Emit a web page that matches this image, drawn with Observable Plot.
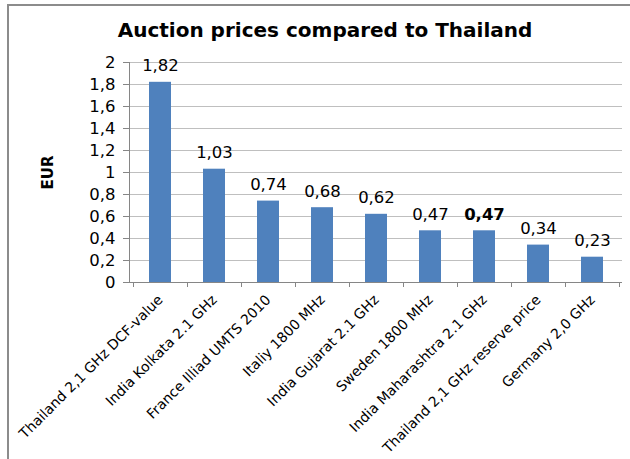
<!DOCTYPE html>
<html>
<head>
<meta charset="utf-8">
<script src="https://cdn.jsdelivr.net/npm/d3@7"></script>
<script src="https://cdn.jsdelivr.net/npm/@observablehq/plot@0.6"></script>
<style>
  body { margin: 0; background: #fff; }
  #wrap { position: relative; width: 630px; height: 459px; overflow: hidden; font-family: "DejaVu Sans", Verdana, sans-serif; }
  #border { position: absolute; left: 7px; top: 4px; width: 640px; height: 470px; border-left: 2px solid #8c8c8c; border-top: 2px solid #8c8c8c; box-sizing: border-box; }
  #title { position: absolute; left: 0; top: 18px; width: 650px; text-align: center; font-weight: bold; font-size: 20px; color: #000; }
  #chart { position: absolute; left: 0; top: 0; }
</style>
</head>
<body>
<div id="wrap">
  <div id="border"></div>
  <div id="title">Auction prices compared to Thailand</div>
  <div id="chart"></div>
</div>
<script>
const categories = [
  "Thailand 2,1 GHz DCF-value",
  "India Kolkata 2.1 GHz",
  "France Illiad UMTS 2010",
  "Italiy 1800 MHz",
  "India Gujarat 2.1 GHz",
  "Sweden 1800 MHz",
  "India Maharashtra 2.1 GHz",
  "Thailand 2,1 GHz reserve price",
  "Germany 2,0 GHz"
];
const values = [1.82, 1.03, 0.74, 0.68, 0.62, 0.47, 0.47, 0.34, 0.23];
const boldLabel = [false, false, false, false, false, false, true, false, false];
const yTicks = [0, 0.2, 0.4, 0.6, 0.8, 1, 1.2, 1.4, 1.6, 1.8, 2];
const yTickLabels = ["0", "0,2", "0,4", "0,6", "0,8", "1", "1,2", "1,4", "1,6", "1,8", "2"];
const yLabel = "EUR";

const data = categories.map((c, i) => ({cat: c, value: values[i], bold: boldLabel[i]}));
const fmt = v => v.toFixed(2).replace(".", ",");

const axisGray = "#868686";

// Excel-style category boundary ticks + axis lines
const boundaryTicks = (index, scales, values, dims) => {
  const x = scales.x;
  const step = x(categories[1]) - x(categories[0]);
  const bw = typeof x.bandwidth === "function" ? x.bandwidth() : x.bandwidth;
  const x0 = x(categories[0]) - (step - bw) / 2;
  const yb = dims.height - dims.marginBottom;
  const g = d3.create("svg:g").attr("stroke", axisGray).attr("stroke-width", 1);
  for (let i = 0; i <= categories.length; i++) {
    const bx = Math.round(x0 + i * step) + 0.5;
    g.append("line").attr("x1", bx).attr("x2", bx).attr("y1", yb).attr("y2", yb + 5);
  }
  g.append("line").attr("x1", dims.marginLeft + 0.5).attr("x2", dims.marginLeft + 0.5)
    .attr("y1", dims.marginTop).attr("y2", yb);
  g.append("line").attr("x1", dims.marginLeft).attr("x2", dims.width - dims.marginRight)
    .attr("y1", yb + 0.5).attr("y2", yb + 0.5);
  return g.node();
};

const plot = Plot.plot({
  width: 630,
  height: 459,
  marginTop: 62,
  marginBottom: 177,
  marginLeft: 129,
  marginRight: 8,
  style: { fontFamily: "DejaVu Sans, Verdana, sans-serif", color: "#000", background: "transparent" },
  x: { domain: categories, paddingInner: 0.6, paddingOuter: 0.3, label: null },
  y: { domain: [0, 2], label: null },
  marks: [
    Plot.gridY(yTicks, { stroke: "#bfbfbf", strokeOpacity: 1 }),
    Plot.barY(data, { x: "cat", y: "value", fill: "#4f81bd" }),
    boundaryTicks,
    Plot.axisY({ ticks: yTicks, tickFormat: d => yTickLabels[yTicks.indexOf(d)], tickSize: 6, tickPadding: 8, fontSize: 16.5, stroke: axisGray,
      label: yLabel, labelAnchor: "center", labelArrow: "none", labelOffset: 87 }),
    Plot.axisX({ tickSize: 0, tickPadding: 15, tickRotate: -45, fontSize: 14, label: null }),
    Plot.text(data.filter(d => !d.bold), { x: "cat", y: "value", text: d => fmt(d.value), fontSize: 16.5, lineAnchor: "bottom", dy: -11, fill: "#000" }),
    Plot.text(data.filter(d => d.bold), { x: "cat", y: "value", text: d => fmt(d.value), fontSize: 16.5, fontWeight: "bold", lineAnchor: "bottom", dy: -11, fill: "#000" })
  ]
});
// style the axis label (EUR) bold
plot.querySelectorAll("g[aria-label='y-axis label'] text").forEach(t => { t.setAttribute("font-weight", "bold"); t.setAttribute("font-size", "15"); });
document.getElementById("chart").appendChild(plot);
</script>
</body>
</html>
